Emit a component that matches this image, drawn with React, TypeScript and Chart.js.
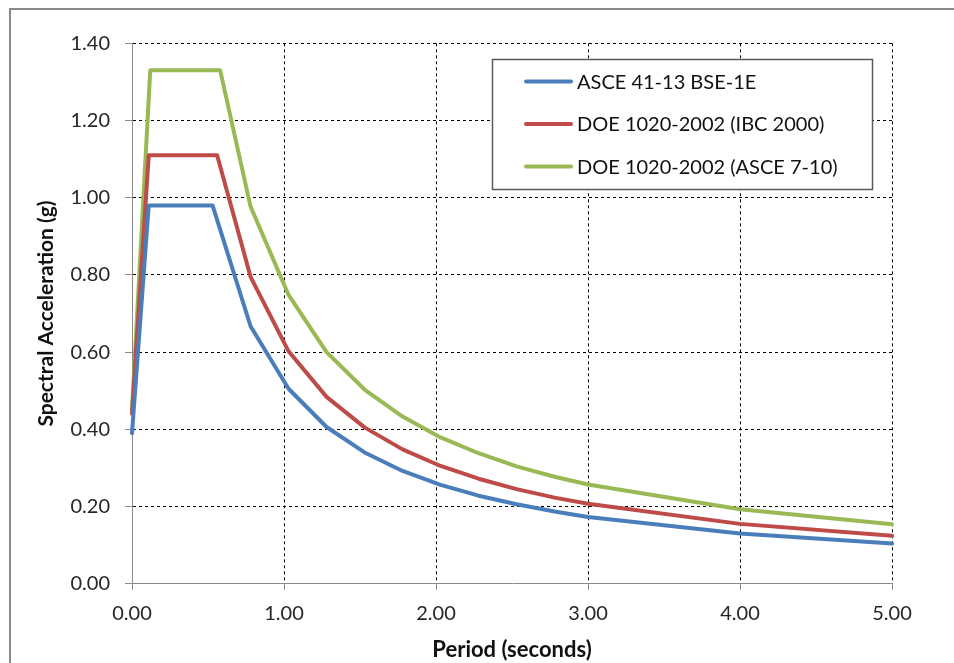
import React, { useEffect, useRef } from 'react';
import { Chart, registerables } from 'chart.js';

Chart.register(...registerables);

const seriesLabels = ['ASCE 41-13 BSE-1E', 'DOE 1020-2002 (IBC 2000)', 'DOE 1020-2002 (ASCE 7-10)'];
const seriesColors = ['#4A7EBB', '#BE4B48', '#98B954'];

const bluePeriods = [0, 0.11, 0.53, 0.78, 1.03, 1.28, 1.53, 1.78, 2.03, 2.28, 2.53, 2.78, 3.0, 4.0, 5.0];
const blueAccel = [0.39, 0.98, 0.98, 0.667, 0.505, 0.406, 0.34, 0.292, 0.256, 0.228, 0.206, 0.187, 0.173, 0.13, 0.104];

const redPeriods = [0, 0.11, 0.56, 0.78, 1.03, 1.28, 1.53, 1.78, 2.03, 2.28, 2.53, 2.78, 3.0, 4.0, 5.0];
const redAccel = [0.44, 1.11, 1.11, 0.795, 0.602, 0.484, 0.405, 0.348, 0.305, 0.272, 0.245, 0.223, 0.207, 0.155, 0.124];

const greenPeriods = [0, 0.12, 0.58, 0.78, 1.03, 1.28, 1.53, 1.78, 2.03, 2.28, 2.53, 2.78, 3.0, 4.0, 5.0];
const greenAccel = [0.45, 1.33, 1.33, 0.977, 0.748, 0.6, 0.503, 0.433, 0.379, 0.338, 0.304, 0.277, 0.257, 0.193, 0.154];

const xTicks = [0, 1, 2, 3, 4, 5];
const yTicks = [0, 0.2, 0.4, 0.6, 0.8, 1.0, 1.2, 1.4];

const xTitle = 'Period (seconds)';
const yTitle = 'Spectral Acceleration (g)';

const FONT = 'Lato, "Open Sans", sans-serif';

const toPoints = (xs: number[], ys: number[]) => xs.map((x, i) => ({ x, y: ys[i] }));

const frameAndLegend = {
  id: 'frameAndLegend',
  beforeDraw(chart: any) {
    const ctx = chart.ctx;
    ctx.save();
    ctx.fillStyle = '#ffffff';
    ctx.fillRect(0, 0, chart.width, chart.height);
    ctx.strokeStyle = '#8a8a8a';
    ctx.lineWidth = 2;
    ctx.strokeRect(10, 9, 2000, 2000);
    ctx.restore();
  },
  afterDraw(chart: any) {
    const ctx = chart.ctx;
    const bx = 492.5, by = 59.5, bw = 380, bh = 130;
    ctx.save();
    ctx.fillStyle = '#ffffff';
    ctx.fillRect(bx, by, bw, bh);
    ctx.strokeStyle = '#5a5a5a';
    ctx.lineWidth = 1.5;
    ctx.strokeRect(bx, by, bw, bh);
    const rows = [81.5, 124, 166.5];
    chart.data.datasets.forEach((ds: any, i: number) => {
      const y = rows[i];
      ctx.strokeStyle = ds.borderColor;
      ctx.lineWidth = 4;
      ctx.lineCap = 'round';
      ctx.beginPath();
      ctx.moveTo(526, y);
      ctx.lineTo(571, y);
      ctx.stroke();
      ctx.fillStyle = '#111111';
      ctx.font = '20px ' + FONT;
      ctx.textAlign = 'left';
      ctx.textBaseline = 'middle';
      ctx.fillText(ds.label, 577, y + 1);
    });
    ctx.restore();
  },
};

export default function App() {
  const ref = useRef<HTMLCanvasElement | null>(null);
  useEffect(() => {
    if (!ref.current) return;
    const mk = (i: number, xs: number[], ys: number[]) => ({
      label: seriesLabels[i],
      data: toPoints(xs, ys),
      borderColor: seriesColors[i],
      backgroundColor: seriesColors[i],
      borderWidth: 4,
      pointRadius: 0,
      tension: 0,
      borderJoinStyle: 'round' as const,
      borderCapStyle: 'round' as const,
      clip: false as any,
      showLine: true,
    });
    const gridColor = (c: any) => (c.tick && c.tick.value === 0 ? 'rgba(0,0,0,0)' : '#000000');
    const chart = new Chart(ref.current, {
      type: 'scatter',
      data: {
        datasets: [
          mk(0, bluePeriods, blueAccel),
          mk(1, redPeriods, redAccel),
          mk(2, greenPeriods, greenAccel),
        ],
      },
      options: {
        responsive: false,
        animation: false,
        devicePixelRatio: 1,
        layout: { padding: { top: 43.3, right: 62, left: 0, bottom: 0 } },
        plugins: { legend: { display: false }, tooltip: { enabled: false } },
        scales: {
          x: {
            type: 'linear',
            min: 0,
            max: 5,
            afterBuildTicks: (s: any) => { s.ticks = xTicks.map((v) => ({ value: v })); },
            afterFit: (s: any) => { s.height = 79.3; },
            ticks: {
              callback: (v: any) => Number(v).toFixed(2),
              font: { family: FONT, size: 20 },
              color: '#262626',
              padding: 12,
              maxRotation: 0,
            },
            grid: { color: gridColor, lineWidth: 1, tickLength: 6, tickColor: '#8a8a8a', tickWidth: 1 },
            border: { color: '#8a8a8a', width: 1, dash: [3, 3] },
            title: {
              display: true,
              text: xTitle,
              font: { family: FONT, size: 22, weight: 'bold' },
              color: '#111111',
              padding: { top: 1, bottom: 0 },
            },
          },
          y: {
            type: 'linear',
            min: 0,
            max: 1.4,
            afterBuildTicks: (s: any) => { s.ticks = yTicks.map((v) => ({ value: v })); },
            afterFit: (s: any) => { s.width = 132; },
            ticks: {
              callback: (v: any) => Number(v).toFixed(2),
              font: { family: FONT, size: 20 },
              color: '#262626',
              padding: 15,
            },
            grid: { color: gridColor, lineWidth: 1, tickLength: 7, tickColor: '#8a8a8a', tickWidth: 1 },
            border: { color: '#8a8a8a', width: 1, dash: [3, 3] },
            title: {
              display: true,
              text: yTitle,
              font: { family: FONT, size: 21, weight: 'bold' },
              color: '#111111',
              padding: { top: 34, bottom: 0 },
            },
          },
        },
      },
      plugins: [frameAndLegend],
    });
    return () => chart.destroy();
  }, []);
  return (
    <div style={{ position: 'absolute', left: 0, top: 0, width: 954, height: 663 }}>
      <canvas ref={ref} width={954} height={663} style={{ display: 'block' }} />
    </div>
  );
}
